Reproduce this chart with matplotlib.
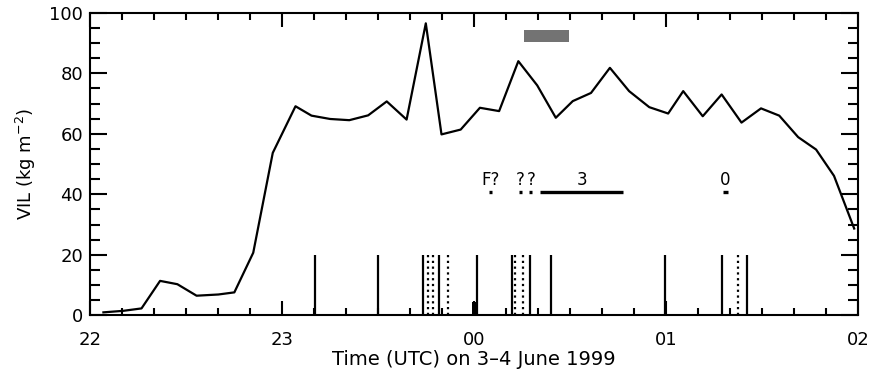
import numpy as np
import matplotlib
matplotlib.use('Agg')
import matplotlib.pyplot as plt
from matplotlib.patches import Rectangle
from matplotlib.ticker import MultipleLocator

# minutes after 22:00 UTC on 3 June 1999
times = [4.2, 10.4, 16.1, 21.9, 27.3, 33.3, 40.1, 45.1, 51.0, 57.1,
         64.2, 69.2, 75.0, 81.0, 86.9, 92.7, 98.9, 104.9, 109.8, 115.8,
         121.8, 127.8, 133.8, 139.7, 145.5, 150.8, 156.5, 162.4, 168.4, 174.7,
         180.6, 185.3, 191.4, 197.3, 203.5, 209.6, 215.3, 221.2, 226.8, 232.4,
         238.7]
vil = [1.0, 1.5, 2.3, 11.4, 10.3, 6.5, 6.9, 7.6, 20.7, 53.7,
       69.1, 66.0, 64.9, 64.5, 66.1, 70.7, 64.7, 96.5, 59.8, 61.4,
       68.6, 67.5, 84.0, 76.0, 65.3, 70.8, 73.5, 81.8, 74.1, 68.8,
       66.7, 74.1, 65.8, 73.0, 63.7, 68.4, 66.0, 58.9, 54.8, 46.1,
       28.7]

solid_marks = [70.3, 90.0, 104.1, 109.0, 120.8, 131.7, 137.4, 143.9, 179.6, 197.5, 205.3]
dotted_marks = [105.7, 107.0, 111.7, 132.8, 135.2, 202.5]
mark_top = 20

ev_label = ['F?', '?', '?', '3', '0']
ev_start = [124.7, 134.0, 137.2, 140.6, 197.6]
ev_end = [125.7, 135.0, 138.2, 166.6, 199.4]
ev_level = 40.7

box_t = [135.5, 149.6]
box_v = [90.3, 94.4]

hour_ticks = [0, 60, 120, 180, 240]
hour_labels = ['22', '23', '00', '01', '02']

plt.rcParams['font.family'] = ['DejaVu Sans']
fig = plt.figure(figsize=(8.7, 3.75), dpi=100)
ax = fig.add_axes([0.1034, 0.159, 0.8832, 0.807])

ax.plot(times, vil, color='k', lw=1.6)
ax.vlines(solid_marks, 0, mark_top, colors='k', lw=1.6)
ax.vlines(dotted_marks, 0, mark_top, colors='k', lw=1.6, linestyles=(0, (1, 1.6)))
ax.bar(120.1, 4.5, width=1.3, color='k')

for lab, s, e in zip(ev_label, ev_start, ev_end):
    ax.hlines(ev_level, s, e, colors='k', lw=2.4)
    ax.text((s + e) / 2, ev_level + 2.4, lab, ha='center', va='baseline', fontsize=12)

ax.add_patch(Rectangle((box_t[0], box_v[0]), box_t[1] - box_t[0], box_v[1] - box_v[0],
                       facecolor='0.45', edgecolor='none'))

ax.set_xlim(0, 240)
ax.set_ylim(0, 100)
ax.set_xticks(hour_ticks)
ax.set_xticklabels(hour_labels)
ax.xaxis.set_minor_locator(MultipleLocator(10))
ax.yaxis.set_major_locator(MultipleLocator(20))
ax.yaxis.set_minor_locator(MultipleLocator(5))
ax.tick_params(which='both', direction='in', top=True, right=True, labelsize=13, width=1.5)
ax.tick_params(axis='x', which='major', length=10, pad=11)
ax.tick_params(axis='x', which='minor', length=5)
ax.tick_params(axis='y', which='major', length=12, pad=5)
ax.tick_params(axis='y', which='minor', length=7)
for sp in ax.spines.values():
    sp.set_linewidth(1.5)

ax.set_xlabel('Time (UTC) on 3\u20134 June 1999', fontsize=14, labelpad=1)
ax.set_ylabel('VIL (kg m$^{-2}$)', fontsize=13, labelpad=8)

fig.savefig('out.png', dpi=100)
